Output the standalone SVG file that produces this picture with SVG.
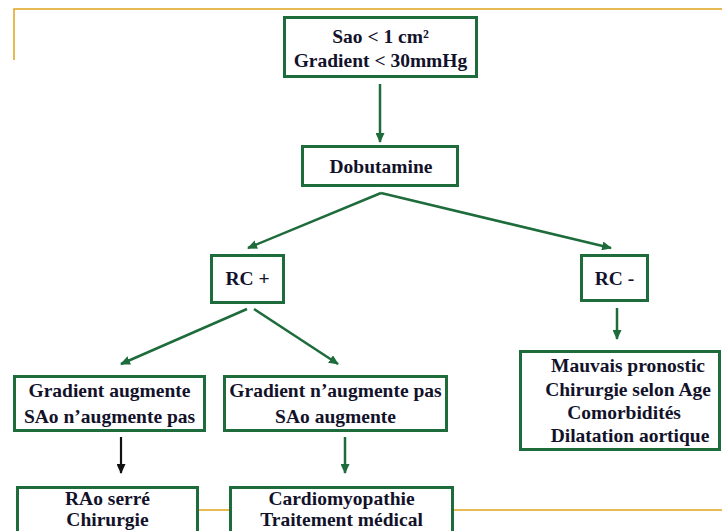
<svg xmlns="http://www.w3.org/2000/svg" width="722" height="531" viewBox="0 0 722 531">
<style>
.box{fill:#fff;stroke:#1e6b3b;stroke-width:3}
.t{font-family:"Liberation Serif","Times New Roman",serif;font-weight:bold;font-size:19.5px;fill:#12122a;text-anchor:middle}
.c{stroke:#1e6b3b;stroke-width:2.5;fill:none;marker-end:url(#ah)}
.k{stroke:#111;stroke-width:2.2;fill:none;marker-end:url(#ahk)}
.gold{stroke:#e0a31a;stroke-width:1.5;fill:none}
</style>
<defs>
<marker id="ah" markerUnits="userSpaceOnUse" markerWidth="10" markerHeight="9" refX="9" refY="4.5" orient="auto"><path d="M0,0 L10,4.5 L0,9 z" fill="#1e6b3b"/></marker>
<marker id="ahk" markerUnits="userSpaceOnUse" markerWidth="10" markerHeight="9" refX="9" refY="4.5" orient="auto"><path d="M0,0 L10,4.5 L0,9 z" fill="#111"/></marker>
</defs>
<rect width="722" height="531" fill="#fff"/>
<g id="frame">
<path class="gold" d="M14,60 V9 H722"/>
<path class="gold" d="M199,510 H722"/>
</g>
<g id="connectors">
<line class="c" x1="380" y1="84" x2="380" y2="142"/>
<line class="c" x1="381" y1="193" x2="248" y2="248"/>
<line class="c" x1="381" y1="193" x2="611" y2="248"/>
<line class="c" x1="247" y1="309" x2="121" y2="364"/>
<line class="c" x1="254" y1="309" x2="338" y2="364"/>
<line class="c" x1="617" y1="308" x2="617" y2="339"/>
<line class="k" x1="121" y1="437" x2="121" y2="473"/>
<line class="c" x1="345" y1="437" x2="345" y2="473"/>
</g>
<g id="n-sao">
<rect class="box" x="284.5" y="17.5" width="192" height="59"/>
<text class="t" x="380.5" y="43">Sao &lt; 1 cm²</text>
<text class="t" x="380.5" y="67">Gradient &lt; 30mmHg</text>
</g>
<g id="n-dobutamine">
<rect class="box" x="302.5" y="146.5" width="155" height="39"/>
<text class="t" x="381" y="173">Dobutamine</text>
</g>
<g id="n-rcplus">
<rect class="box" x="211.5" y="255.5" width="72" height="47"/>
<text class="t" x="247.5" y="285">RC +</text>
</g>
<g id="n-rcminus">
<rect class="box" x="581.5" y="255.5" width="66" height="45"/>
<text class="t" x="614.5" y="285">RC -</text>
</g>
<g id="n-mauvais">
<rect class="box" x="520.5" y="351.5" width="199" height="98"/>
<text class="t" x="628" y="372">Mauvais pronostic</text>
<text class="t" x="628" y="396">Chirurgie selon Age</text>
<text class="t" x="624" y="419">Comorbidités</text>
<text class="t" x="630" y="442">Dilatation aortique</text>
</g>
<g id="n-grad-aug">
<rect class="box" x="14.5" y="376.5" width="190" height="54"/>
<text class="t" x="109.5" y="397">Gradient augmente</text>
<text class="t" x="109.5" y="423">SAo n’augmente pas</text>
</g>
<g id="n-grad-naug">
<rect class="box" x="224.5" y="376.5" width="222" height="54"/>
<text class="t" x="335.5" y="397">Gradient n’augmente pas</text>
<text class="t" x="335.5" y="423">SAo augmente</text>
</g>
<g id="n-rao">
<rect class="box" x="17.5" y="487.5" width="180" height="60"/>
<text class="t" x="107.5" y="505">RAo serré</text>
<text class="t" x="107.5" y="526">Chirurgie</text>
</g>
<g id="n-cardio">
<rect class="box" x="230.5" y="487.5" width="222" height="60"/>
<text class="t" x="341.5" y="505">Cardiomyopathie</text>
<text class="t" x="341.5" y="526">Traitement médical</text>
</g>
</svg>
